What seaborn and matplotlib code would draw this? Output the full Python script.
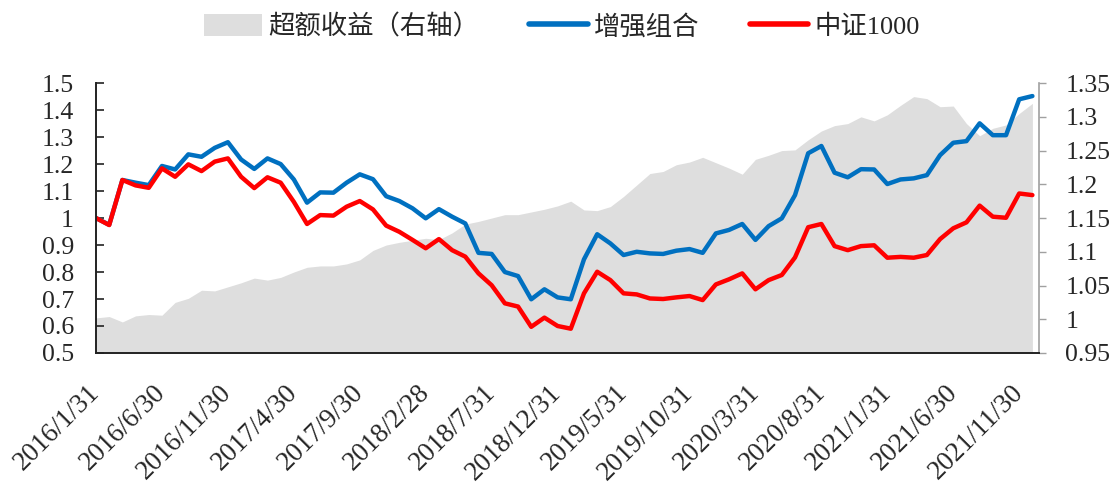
import numpy as np
import pandas as pd
import matplotlib
matplotlib.use('Agg')
import matplotlib.pyplot as plt
import seaborn as sns
from matplotlib.patches import Patch
from matplotlib.lines import Line2D

# month-end dates 2016/1/31 .. 2021/12/31
dates = pd.date_range('2016-01-31', periods=72, freq='ME')
date_labels = [f'{d.year}/{d.month}/{d.day}' for d in dates]

enhanced = [1.000, 0.975, 1.141, 1.131, 1.122, 1.193, 1.180, 1.236, 1.227, 1.260,
            1.281, 1.217, 1.182, 1.221, 1.200, 1.143, 1.057, 1.095, 1.094, 1.131,
            1.162, 1.144, 1.081, 1.063, 1.036, 0.999, 1.033, 1.005, 0.980, 0.871,
            0.867, 0.800, 0.785, 0.699, 0.736, 0.706, 0.699, 0.847, 0.940, 0.906,
            0.863, 0.875, 0.869, 0.867, 0.879, 0.885, 0.871, 0.943, 0.956, 0.978,
            0.919, 0.970, 0.999, 1.085, 1.240, 1.267, 1.168, 1.151, 1.181, 1.180,
            1.126, 1.143, 1.147, 1.159, 1.233, 1.279, 1.285, 1.351, 1.307, 1.307,
            1.440, 1.452]

csi1000 = [1.000, 0.974, 1.141, 1.121, 1.112, 1.184, 1.153, 1.199, 1.174, 1.209,
           1.221, 1.153, 1.111, 1.151, 1.131, 1.060, 0.978, 1.011, 1.009, 1.042,
           1.063, 1.032, 0.972, 0.949, 0.919, 0.888, 0.922, 0.881, 0.857, 0.795,
           0.751, 0.684, 0.672, 0.597, 0.631, 0.600, 0.590, 0.721, 0.801, 0.770,
           0.721, 0.717, 0.702, 0.700, 0.706, 0.711, 0.696, 0.754, 0.773, 0.795,
           0.736, 0.770, 0.789, 0.854, 0.966, 0.978, 0.896, 0.881, 0.896, 0.899,
           0.853, 0.856, 0.853, 0.863, 0.922, 0.962, 0.984, 1.046, 1.005, 1.001,
           1.091, 1.085]

excess = [1.002, 1.004, 0.996, 1.005, 1.007, 1.006, 1.025, 1.031, 1.043, 1.042,
          1.048, 1.054, 1.061, 1.058, 1.062, 1.070, 1.077, 1.079, 1.079, 1.082,
          1.088, 1.102, 1.110, 1.114, 1.117, 1.120, 1.118, 1.128, 1.141, 1.145,
          1.150, 1.155, 1.155, 1.159, 1.163, 1.168, 1.175, 1.162, 1.161, 1.167,
          1.182, 1.199, 1.216, 1.219, 1.229, 1.233, 1.240, 1.232, 1.224, 1.215,
          1.237, 1.243, 1.250, 1.251, 1.266, 1.279, 1.287, 1.290, 1.300, 1.294,
          1.303, 1.317, 1.330, 1.327, 1.315, 1.316, 1.290, 1.272, 1.283, 1.288,
          1.305, 1.320]

left_ticks = [0.5, 0.6, 0.7, 0.8, 0.9, 1.0, 1.1, 1.2, 1.3, 1.4, 1.5]
right_ticks = [0.95, 1.0, 1.05, 1.1, 1.15, 1.2, 1.25, 1.3, 1.35]

names = ['超额收益（右轴）', '增强组合', '中证1000']

sns.set_style('white')
plt.rcParams['font.family'] = ['Liberation Serif', 'Noto Sans CJK SC']
plt.rcParams['axes.unicode_minus'] = False

df = pd.DataFrame({'pos': np.arange(len(dates)), 'enh': enhanced,
                   'csi': csi1000, 'exc': excess})

fig = plt.figure(figsize=(11.19, 4.86), dpi=100)
ax = fig.add_axes([0.0858, 0.2737, 0.8427, 0.5553])
ax2 = ax.twinx()

ax2.fill_between(df['pos'], 0.95, df['exc'], color='#DEDEDE', lw=0)
ax2.set_ylim(0.95, 1.35)

ax.set_zorder(ax2.get_zorder() + 1)
ax.patch.set_visible(False)

sns.lineplot(data=df, x='pos', y='enh', ax=ax, color='#0070C0', lw=3.2)
sns.lineplot(data=df, x='pos', y='csi', ax=ax, color='#FF0000', lw=3.2)

ax.set_xlim(0, 71.5)
ax.set_ylim(0.5, 1.5)
ax.set_xlabel('')
ax.set_ylabel('')


def fmt(v):
    return f'{v:.2f}'.rstrip('0').rstrip('.')


ax.set_yticks(left_ticks)
ax.set_yticklabels([fmt(v) for v in left_ticks])
ax2.set_yticks(right_ticks)
ax2.set_yticklabels([fmt(v) for v in right_ticks])

xt = list(range(0, len(dates), 5))
ax.set_xticks(xt)
ax.set_xticklabels([date_labels[i] for i in xt], rotation=45, ha='right',
                   va='center', rotation_mode='anchor')

ax.tick_params(axis='y', direction='in', length=6, width=1.2, pad=16,
               labelsize=18.5, color='#222222')
ax.tick_params(axis='x', direction='in', length=6, width=1.2, pad=26,
               labelsize=19.5, color='#222222')
ax2.tick_params(axis='y', direction='out', length=5, width=1.0, pad=14,
                labelsize=18.5, color='#A0A0A0')

for a in (ax, ax2):
    a.spines['top'].set_visible(False)
ax.spines['left'].set_color('#222222')
ax.spines['left'].set_linewidth(1.4)
ax.spines['bottom'].set_color('#222222')
ax.spines['bottom'].set_linewidth(1.4)
ax.spines['right'].set_visible(False)
ax2.spines['left'].set_visible(False)
ax2.spines['bottom'].set_visible(False)
ax2.spines['right'].set_color('#A0A0A0')
ax2.spines['right'].set_linewidth(1.2)

handles = [Patch(facecolor='#DEDEDE', edgecolor='none'),
           Line2D([], [], color='#0070C0', lw=4),
           Line2D([], [], color='#FF0000', lw=4)]
fig.legend(handles, names, loc='upper center', bbox_to_anchor=(0.502, 1.02),
           ncol=3, frameon=False, fontsize=19, handlelength=2.2,
           handleheight=0.9, handletextpad=0.25, columnspacing=1.9)

fig.savefig('out.png', dpi=100)
